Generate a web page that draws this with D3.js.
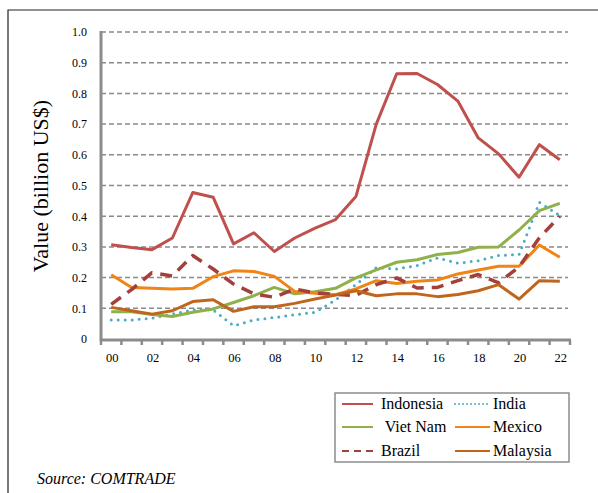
<!DOCTYPE html>
<html>
<head>
<meta charset="utf-8">
<script src="https://cdnjs.cloudflare.com/ajax/libs/d3/7.8.5/d3.min.js"></script>
<style>
  html, body { margin: 0; padding: 0; background: #fff; }
  svg { display: block; font-family: "Liberation Serif", "Times New Roman", serif; }
</style>
</head>
<body>
<div id="chart"></div>
<script>
// years on the category axis
const years = ['00','01','02','03','04','05','06','07','08','09','10','11','12','13','14','15','16','17','18','19','20','21','22'];
const yTicks = [0, 0.1, 0.2, 0.3, 0.4, 0.5, 0.6, 0.7, 0.8, 0.9, 1.0];

// values, billion US$
const indonesia = [0.307,0.298,0.291,0.329,0.477,0.462,0.310,0.346,0.285,0.329,0.361,0.389,0.464,0.700,0.864,0.865,0.829,0.775,0.655,0.603,0.527,0.633,0.584];
const india     = [0.062,0.062,0.068,0.081,0.095,0.095,0.043,0.062,0.070,0.079,0.087,0.127,0.177,0.233,0.228,0.239,0.264,0.247,0.255,0.272,0.275,0.445,0.402];
const vietnam   = [0.089,0.089,0.080,0.073,0.087,0.098,0.119,0.141,0.168,0.147,0.154,0.165,0.199,0.225,0.250,0.258,0.275,0.282,0.299,0.300,0.355,0.418,0.442];
const mexico    = [0.209,0.168,0.165,0.163,0.165,0.203,0.222,0.220,0.204,0.155,0.149,0.144,0.163,0.190,0.181,0.188,0.192,0.212,0.225,0.237,0.237,0.306,0.266];
const brazil    = [0.113,0.161,0.216,0.205,0.272,0.228,0.179,0.147,0.136,0.163,0.150,0.145,0.142,0.177,0.199,0.166,0.168,0.190,0.210,0.183,0.235,0.330,0.400];
const malaysia  = [0.103,0.092,0.081,0.092,0.122,0.128,0.090,0.105,0.105,0.116,0.130,0.143,0.157,0.141,0.147,0.147,0.138,0.145,0.157,0.177,0.130,0.190,0.188];

const series = [
  { name: 'Indonesia', values: indonesia, color: '#c0504d', dash: null, width: 3 },
  { name: 'India', values: india, color: '#4bacc6', dash: '0,7', width: 3, round: true },
  { name: ' Viet Nam', values: vietnam, color: '#8fb04a', dash: null, width: 3 },
  { name: 'Mexico', values: mexico, color: '#ee8516', dash: null, width: 3 },
  { name: 'Brazil', values: brazil, color: '#a3403b', dash: '12,8', width: 3.5 },
  { name: 'Malaysia', values: malaysia, color: '#c0651c', dash: null, width: 3 }
];

const W = 598, H = 493;
const plot = { left: 101, right: 570, top: 32, bottom: 339 };

const svg = d3.select('#chart').append('svg')
  .attr('width', W)
  .attr('height', H);

// outer frame (top and left edges visible)
svg.append('path')
  .attr('d', `M8,${H} L8,10 L${W},10`)
  .attr('fill', 'none')
  .attr('stroke', '#222')
  .attr('stroke-width', 1.2);

const x = d3.scaleBand().domain(years).range([plot.left, plot.right]).padding(0);
const y = d3.scaleLinear().domain([0, 1]).range([plot.bottom, plot.top]);

// dashed gridlines
svg.append('g')
  .selectAll('line')
  .data(yTicks.filter(d => d > 0))
  .join('line')
  .attr('x1', plot.left)
  .attr('x2', plot.right - 2)
  .attr('y1', d => y(d))
  .attr('y2', d => y(d))
  .attr('stroke', '#8a8a8a')
  .attr('stroke-width', 1.5)
  .attr('stroke-dasharray', '5,3');

// y axis
const yAxis = svg.append('g')
  .attr('transform', `translate(${plot.left},0)`)
  .call(d3.axisLeft(y).tickValues(yTicks).tickSize(0).tickPadding(14)
    .tickFormat(d => d === 0 ? '0' : d3.format('.1f')(d)));
yAxis.select('.domain').remove();
yAxis.selectAll('text')
  .attr('font-family', '"Liberation Serif", serif')
  .attr('font-size', 12)
  .attr('fill', '#000');
svg.append('line')
  .attr('x1', plot.left).attr('x2', plot.left)
  .attr('y1', plot.top - 1).attr('y2', plot.bottom + 2)
  .attr('stroke', '#8c8c8c').attr('stroke-width', 3);

// x axis: ticks at category boundaries, labels every other year
const bounds = years.map(d => x(d)).concat([plot.right]);
svg.append('line')
  .attr('x1', plot.left - 1).attr('x2', plot.right + 1)
  .attr('y1', plot.bottom + 1).attr('y2', plot.bottom + 1)
  .attr('stroke', '#8c8c8c').attr('stroke-width', 3);
svg.append('g')
  .selectAll('line')
  .data(bounds)
  .join('line')
  .attr('x1', d => d).attr('x2', d => d)
  .attr('y1', plot.bottom + 1).attr('y2', plot.bottom + 6)
  .attr('stroke', '#8c8c8c').attr('stroke-width', 2.5);
svg.append('g')
  .selectAll('text')
  .data(years.filter((d, i) => i % 2 === 0))
  .join('text')
  .attr('x', d => x(d) + x.bandwidth() / 2 + 1)
  .attr('y', plot.bottom + 23)
  .attr('text-anchor', 'middle')
  .attr('font-size', 12.5)
  .text(d => d);

// y axis title
svg.append('text')
  .attr('transform', `translate(48,186) rotate(-90)`)
  .attr('text-anchor', 'middle')
  .attr('font-size', 22)
  .text('Value (billion US$)');

// lines
const line = d3.line()
  .x((d, i) => x(years[i]) + x.bandwidth() / 2)
  .y(d => y(d));

svg.append('g')
  .selectAll('path')
  .data(series)
  .join('path')
  .attr('d', d => line(d.values))
  .attr('fill', 'none')
  .attr('stroke', d => d.color)
  .attr('stroke-width', d => d.width)
  .attr('stroke-linejoin', 'round')
  .attr('stroke-linecap', d => d.round ? 'round' : 'butt')
  .attr('stroke-dasharray', d => d.dash);

// legend
const lg = svg.append('g');
lg.append('rect')
  .attr('x', 335).attr('y', 393)
  .attr('width', 234).attr('height', 69)
  .attr('fill', '#fff')
  .attr('stroke', '#8c8c8c')
  .attr('stroke-width', 1.5);

const cols = [{ x0: 342, x1: 373, tx: 381 }, { x0: 455, x1: 490, tx: 493 }];
const rows = [404, 427, 451];
series.forEach((s, i) => {
  const c = cols[i % 2], r = rows[Math.floor(i / 2)];
  lg.append('line')
    .attr('x1', c.x0).attr('x2', c.x1)
    .attr('y1', r).attr('y2', r)
    .attr('stroke', s.color)
    .attr('stroke-width', s.dash === '12,8' ? 2 : 2)
    .attr('stroke-linecap', s.round ? 'round' : 'butt')
    .attr('stroke-dasharray', s.dash === '0,7' ? '0,4' : (s.dash ? '7,5' : null));
  lg.append('text')
    .attr('x', c.tx).attr('y', r + 5)
    .attr('font-size', 16)
    .attr('xml:space', 'preserve')
    .style('white-space', 'pre')
    .text(s.name);
});

// source note
svg.append('text')
  .attr('x', 37).attr('y', 484)
  .attr('font-size', 16)
  .attr('font-style', 'italic')
  .text('Source: COMTRADE');
</script>
</body>
</html>
